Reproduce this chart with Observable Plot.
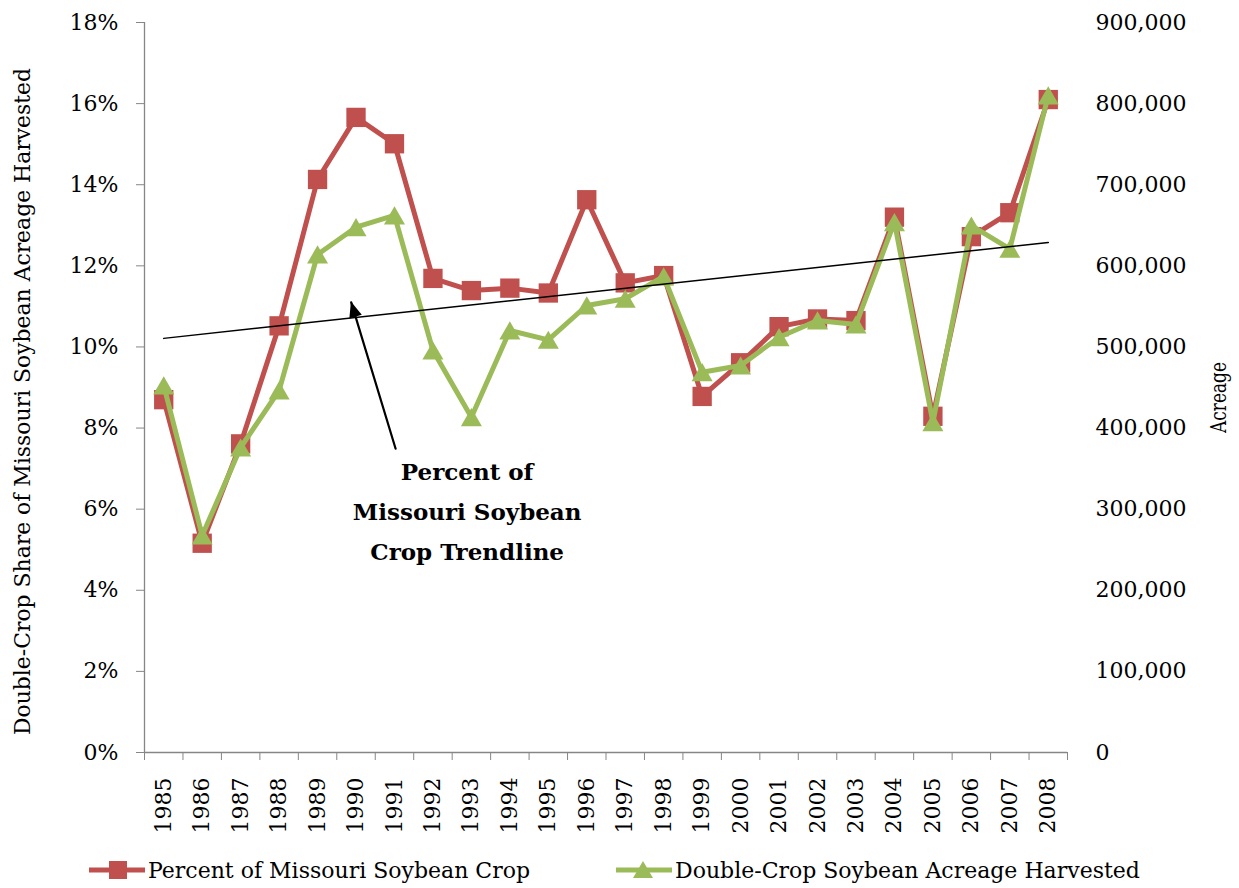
<!DOCTYPE html>
<html>
<head>
<meta charset="utf-8">
<script src="https://cdn.jsdelivr.net/npm/d3@7"></script>
<script src="https://cdn.jsdelivr.net/npm/@observablehq/plot@0.6"></script>
<style>
  body { margin: 0; background: #fff; font-family: "DejaVu Serif", serif; }
  #legend { position: relative; width: 1239px; height: 50px; }
  .item { position: absolute; top: 0; height: 50px; display: flex; align-items: center;
          font-size: 22px; color: #000; white-space: nowrap; }
  .item svg { margin-right: 3px; }
</style>
</head>
<body>
<div id="chart"></div>
<div id="legend"></div>
<script>
// ---- data ----
const years = [1985,1986,1987,1988,1989,1990,1991,1992,1993,1994,1995,1996,
               1997,1998,1999,2000,2001,2002,2003,2004,2005,2006,2007,2008];
// Percent of Missouri soybean crop (double-crop share)
const percentCrop = [0.0870,0.0516,0.0761,0.1052,0.1413,0.1566,0.1501,0.1169,
                     0.1139,0.1145,0.1133,0.1363,0.1158,0.1176,0.0878,0.0961,
                     0.1050,0.1069,0.1065,0.1320,0.0829,0.1272,0.1331,0.1610];
// Double-crop soybean acreage harvested
const acreage = [452500,267500,376000,446300,614000,647600,662100,495600,
                 413400,520300,508800,551100,559400,586900,468900,477100,
                 512000,532600,527700,653800,407200,649700,621000,810000];
const percentTicks = [0,0.02,0.04,0.06,0.08,0.10,0.12,0.14,0.16,0.18];
const acreageMax = 900000;               // right axis top, aligned with 18%
const seriesNames = ["Percent of Missouri Soybean Crop", "Double-Crop Soybean Acreage Harvested"];
const leftTitle = "Double-Crop Share of Missouri Soybean Acreage Harvested";
const rightTitle = "Acreage";
const noteText = "Percent of\nMissouri Soybean\nCrop Trendline";
const noteAt = [{year: 1992.89, value: 0.0604}];
const arrowPath = [{year: 1991.03, value: 0.0749}, {year: 1989.875, value: 0.1110}];

// ---- styles ----
const RED = "#C0504D", GREEN = "#9BBB59", GRAY = "#868686";
const acresPerUnit = acreageMax / percentTicks[percentTicks.length - 1];

const percentData = years.map((year, i) => ({year, value: percentCrop[i]}));
const acreData = years.map((year, i) => ({year, value: acreage[i] / acresPerUnit}));
const bounds = d3.range(years.length + 1).map(i => years[0] - 0.5 + i);

function arrowHead(color) {
  const m = d3.create("svg:marker")
    .attr("viewBox", "-16 -8 17 16")
    .attr("markerUnits", "userSpaceOnUse")
    .attr("markerWidth", 17).attr("markerHeight", 16)
    .attr("refX", 0).attr("refY", 0)
    .attr("orient", "auto")
    .attr("overflow", "visible");
  m.append("path").attr("d", "M1,0L-15,-6.5L-15,6.5Z").attr("fill", color).attr("stroke", "none");
  return m.node();
}

function build(marker) {
  return Plot.plot({
    width: 1239, height: 845,
    marginLeft: 144, marginRight: 172, marginTop: 22, marginBottom: 93,
    x: {domain: [bounds[0], bounds[bounds.length - 1]]},
    y: {domain: [0, percentTicks[percentTicks.length - 1]]},
    style: {fontFamily: "DejaVu Serif", fontSize: "22px", color: "#000", background: "#fff"},
    marks: [
      Plot.axisX({ticks: bounds, tickSize: 8, tickFormat: () => "", stroke: GRAY, label: null}),
      Plot.axisX({ticks: years, tickSize: 0, tickPadding: 25, tickRotate: -90,
                  tickFormat: d => String(d), label: null}),
      Plot.axisY({ticks: percentTicks, tickSize: 8, tickPadding: 18,
                  tickFormat: d3.format(".0%"), stroke: GRAY, label: null}),
      Plot.axisY({anchor: "right", ticks: percentTicks, tickSize: 0, tickPadding: 28,
                  tickFormat: d => d3.format(",")(Math.round(d * acresPerUnit)), label: null}),
      Plot.ruleY([0], {stroke: GRAY, strokeWidth: 1.3}),
      Plot.ruleX([bounds[0]], {stroke: GRAY, strokeWidth: 1.3}),
      Plot.text([leftTitle], {frameAnchor: "left", textAnchor: "middle", lineAnchor: "middle",
                              rotate: -90, dx: -122, dy: 14, fontSize: 22}),
      Plot.text([rightTitle], {frameAnchor: "right", textAnchor: "middle", lineAnchor: "middle",
                               rotate: -90, dx: 151, dy: 10, fontSize: 23}),
      Plot.line(percentData, {x: "year", y: "value", stroke: RED, strokeWidth: 5}),
      Plot.dot(percentData, {x: "year", y: "value", symbol: "square", r: 10.9, fill: RED}),
      Plot.line(acreData, {x: "year", y: "value", stroke: GREEN, strokeWidth: 5}),
      Plot.dot(acreData, {x: "year", y: "value", symbol: "triangle", r: 7.8, fill: GREEN, dy: 3}),
      Plot.linearRegressionY(percentData, {x: "year", y: "value", stroke: "#000", strokeWidth: 1.5, ci: 0}),
      Plot.line(arrowPath, {x: "year", y: "value", stroke: "#000", strokeWidth: 2.2, markerEnd: marker}),
      Plot.text(noteAt, {x: "year", y: "value", text: () => noteText, fontWeight: "bold",
                         fontSize: 23, lineHeight: 1.74, textAnchor: "middle"})
    ]
  });
}

let chart;
try { chart = build(arrowHead); } catch (e) { chart = build("arrow"); }
document.getElementById("chart").appendChild(chart);

// condensed axis titles as in the original
d3.select(chart).selectAll("text").each(function () {
  if (this.textContent === leftTitle) { this.setAttribute("textLength", 667); this.setAttribute("lengthAdjust", "spacingAndGlyphs"); }
  if (this.textContent === rightTitle) { this.setAttribute("textLength", 71); this.setAttribute("lengthAdjust", "spacingAndGlyphs"); }
});

// ---- legend ----
const legend = d3.select("#legend");
const items = [
  {name: seriesNames[0], color: RED, left: 89, sym: "square"},
  {name: seriesNames[1], color: GREEN, left: 616, sym: "triangle"}
];
for (const it of items) {
  const div = legend.append("div").attr("class", "item").style("left", it.left + "px");
  const s = div.append("svg").attr("width", 56).attr("height", 24);
  s.append("line").attr("x1", 0).attr("x2", 56).attr("y1", 12).attr("y2", 12)
    .attr("stroke", it.color).attr("stroke-width", 5);
  if (it.sym === "square") {
    s.append("rect").attr("x", 20).attr("y", 3).attr("width", 18).attr("height", 18).attr("fill", it.color);
  } else {
    s.append("path").attr("d", "M27,3L37,20L17,20Z").attr("fill", it.color);
  }
  div.append("span").text(it.name);
}
</script>
</body>
</html>
